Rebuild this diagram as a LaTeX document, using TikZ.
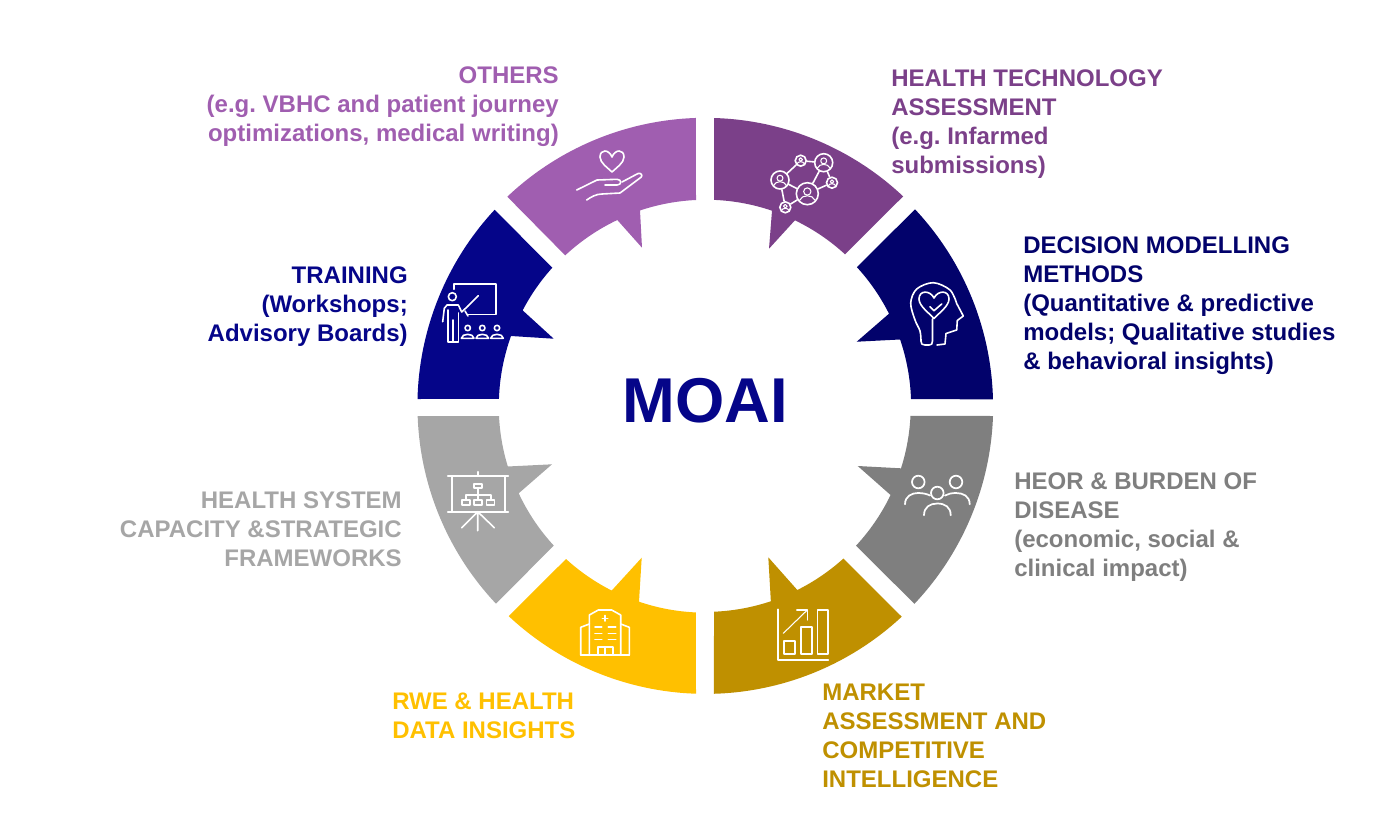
\documentclass[tikz,border=0pt]{standalone}
\usepackage{fontspec}
\setmainfont{Liberation Sans}
\usepackage{xcolor}
\usepackage{tikz}
\definecolor{htapurple}{HTML}{7B4089}
\definecolor{othpurple}{HTML}{A05EB0}
\definecolor{dmmnavy}{HTML}{02026B}
\definecolor{trainblue}{HTML}{050589}
\definecolor{heorgrey}{HTML}{7F7F7F}
\definecolor{hsgrey}{HTML}{A6A6A6}
\definecolor{rweyellow}{HTML}{FFC000}
\definecolor{mktgold}{HTML}{BF9000}
\tikzset{
  lbl/.style={inner sep=0pt, font=\fontsize{18}{21.75}\selectfont\bfseries\frenchspacing},
  lblL/.style={lbl, anchor=north west, align=left},
  lblR/.style={lbl, anchor=north east, align=right},
  iconline/.style={draw=white, line width=1.2pt, line cap=round, line join=round},
  netdot/.style={circle, draw=white, line width=1.2pt, inner sep=0pt}
}
\begin{document}
\begin{tikzpicture}[x=.75pt, y=.75pt, yscale=-1]
  \useasboundingbox (0,0) rectangle (1380,832);
  % ---------- the eight ring segments ----------
  \fill[htapurple] (714,118) arc[start angle=-88.31, end angle=-46.67, radius=288] -- (845,254.3)
    arc[start angle=-47.4, end angle=-64.3, radius=206] -- (769,248.7) -- (772,210.7)
    arc[start angle=-71.2, end angle=-87.64, radius=206] -- cycle;
  \fill[dmmnavy] (915,209.3) arc[start angle=-43.2, end angle=-1.4, radius=288] -- (911,399)
    arc[start angle=-1.95, end angle=-18.84, radius=206] -- (856.7,341.7) -- (889,313.7)
    arc[start angle=-26.7, end angle=-42.47, radius=206] -- cycle;
  \fill[heorgrey] (993,416) arc[start angle=2, end angle=43.4, radius=288] -- (856,545.7)
    arc[start angle=42.87, end angle=25.74, radius=206] -- (857.7,466) -- (901,468.3)
    arc[start angle=17.68, end angle=2.79, radius=206] -- cycle;
  \fill[mktgold] (901.7,616.7) arc[start angle=47.05, end angle=88.31, radius=288] -- (714,611.7)
    arc[start angle=87.63, end angle=71.5, radius=206] -- (768.3,557.3) -- (797.3,590)
    arc[start angle=63.48, end angle=47.9, radius=206] -- cycle;
  \fill[rweyellow] (696,693.7) arc[start angle=91.89, end angle=133.1, radius=288] -- (566,559)
    arc[start angle=132.36, end angle=116.87, radius=206] -- (641.7,557.7) -- (639,601.7)
    arc[start angle=108.77, end angle=92.64, radius=206] -- cycle;
  \fill[hsgrey] (496,603.7) arc[start angle=136.67, end angle=178, radius=288] -- (499,416)
    arc[start angle=177.23, end angle=162.94, radius=206] -- (552,464.3) -- (518.7,493.3)
    arc[start angle=154.95, end angle=137.38, radius=206] -- cycle;
  \fill[trainblue] (417.5,399) arc[start angle=181.4, end angle=222.96, radius=288] -- (552.3,267.7)
    arc[start angle=222.07, end angle=207.58, radius=206] -- (553.7,338.7) -- (511,336)
    arc[start angle=199.8, end angle=181.94, radius=206] -- cycle;
  \fill[othpurple] (507.3,196.7) arc[start angle=226.56, end angle=268.11, radius=288] -- (696,200)
    arc[start angle=267.36, end angle=251.46, radius=206] -- (642,247.7) -- (617.3,220)
    arc[start angle=244.63, end angle=227.05, radius=206] -- cycle;
  % ---------- centre and labels ----------
  \node[trainblue, inner sep=0pt, font=\fontsize{47.5}{50}\selectfont\bfseries] (moai) at (705.5,400.5) {MOAI};
  \node[lblR, othpurple] (others) at (559,66.5) {OTHERS\\(e.g. VBHC and patient journey\\optimizations, medical writing)};
  \node[lblL, htapurple] (hta) at (891,69.5) {HEALTH TECHNOLOGY\\ASSESSMENT\\(e.g. Infarmed\\submissions)};
  \node[lblL, dmmnavy] (dmm) at (1023,236.5) {DECISION MODELLING\\METHODS\\(Quantitative \& predictive\\models; Qualitative studies\\\& behavioral insights)};
  \node[lblR, trainblue] (training) at (408,266.5) {TRAINING\\(Workshops;\\Advisory Boards)};
  \node[lblL, heorgrey] (heor) at (1014,472.5) {HEOR \& BURDEN OF\\DISEASE\\(economic, social \&\\clinical impact)};
  \node[lblR, hsgrey] (hsystem) at (402,491.5) {HEALTH SYSTEM\\CAPACITY \&STRATEGIC\\FRAMEWORKS};
  \node[lblL, rweyellow] (rwe) at (392,692.5) {RWE \& HEALTH\\DATA INSIGHTS};
  \node[lblL, mktgold] (market) at (822,683.5) {MARKET\\ASSESSMENT AND\\COMPETITIVE\\INTELLIGENCE};
  % ---------- icon: people network ----------
  \foreach \n/\x/\y/\r in {na/780/180/9, nb/800.7/160.7/5.5, nc/823.7/162.7/9, nd/832/182.7/5.5, ne/807.3/193.7/11, nf/785.3/207.3/5.5} {
    \node[netdot, minimum size=2*\r*.75pt] (\n) at (\x,\y) {};
    \draw[iconline, line width=.8pt] (\x,\y-.2*\r) circle (.33*\r);
    \draw[iconline, line width=.8pt] (\x-.7*\r,\y+.6*\r) .. controls (\x-.5*\r,\y+.05*\r) and (\x+.5*\r,\y+.05*\r) .. (\x+.7*\r,\y+.6*\r);
  }
  \draw[iconline] (na) -- (nb) (nb) -- (nc) (na) -- (ne) (na) -- (nf) (nf) -- (ne) (ne) -- (nc) (ne) -- (nd) (nc) -- (nd);
  % ---------- icon: head with heart ----------
  \draw[iconline] plot[smooth, tension=.55] coordinates {(921,341) (920,331) (915,320) (910.7,303) (916.7,289) (933.3,282.7) (950,290) (956.7,303.5)} -- (963.3,316) -- (957.3,320.5) -- (956.7,330) -- (946,333.5) -- (945,344) -- (937,345);
  \draw[iconline] (921,341) .. controls (921,344) and (922,345) .. (925,345) -- (929,345) .. controls (931.5,345) and (932.5,344) .. (932.5,341) -- (932.5,319);
  \draw[iconline] (934,298) .. controls (930,290) and (919,290) .. (919,299) .. controls (919,306) and (929,313) .. (934,318.5) .. controls (939,313) and (949,306) .. (949,299) .. controls (949,290) and (938,290) .. (934,298) -- cycle;
  \draw[iconline] (930,306.7) -- (934,310.7) -- (941.7,304);
  % ---------- icon: people group ----------
  \foreach \x/\y in {918.3/482, 956/482, 937.3/493}
    \draw[iconline, line width=1.3pt] (\x,\y) circle (6.3);
  \draw[iconline, line width=1.3pt] (905,504.3) .. controls (905,496) and (912,493) .. (918,493) .. controls (923,493) and (927,494) .. (930,495.5);
  \draw[iconline, line width=1.3pt] (969.7,504.3) .. controls (969.7,496) and (963,493) .. (956,493) .. controls (951,493) and (948,494) .. (945,495.5);
  \draw[iconline, line width=1.3pt] (924,515.3) .. controls (924,507) and (930,503.5) .. (937.3,503.5) .. controls (945,503.5) and (950.7,507) .. (950.7,515.3);
  % ---------- icon: growth chart ----------
  \draw[iconline] (777.7,609.3) -- (777.7,660) -- (828.3,660);
  \draw[iconline] (784,640.7) rectangle (795,654);
  \draw[iconline] (800.7,626.7) rectangle (811.7,654);
  \draw[iconline] (817.3,610) rectangle (828,654);
  \draw[iconline, line width=.8pt] (783.3,633.3) -- (807.3,610);
  \draw[iconline, line width=.8pt] (796.7,610) -- (807.3,610) -- (807.3,620);
  % ---------- icon: hospital ----------
  \draw[iconline] (580.7,655) -- (580.7,627.3) -- (589.3,624);
  \draw[iconline] (629.3,655) -- (629.3,627.3) -- (620.7,624);
  \draw[iconline] (589.3,655) -- (589.3,615) -- (598.3,610) -- (611.7,610) -- (620.7,615) -- (620.7,655);
  \draw[iconline] (580.7,655) -- (629.3,655);
  \draw[iconline] (605,615.5) -- (605,621) (602.3,618.3) -- (607.7,618.3);
  \foreach \y in {626.7,633.3,639.3}
    \draw[iconline] (595,\y) -- (601.7,\y) (608.3,\y) -- (615.7,\y);
  \draw[iconline] (597.7,655) -- (597.7,646.7) -- (612.7,646.7) -- (612.7,655) (605,646.7) -- (605,655);
  % ---------- icon: presentation board ----------
  \draw[iconline] (447.7,476) -- (508.3,476) (447.7,511.7) -- (508.3,511.7);
  \draw[iconline] (451.7,476) -- (451.7,511.7) (505,476) -- (505,511.7);
  \draw[iconline] (477.7,471.7) -- (477.7,476);
  \draw[iconline] (477.7,511.7) -- (477.7,530.7) (477.7,511.7) -- (461.7,527.7) (477.7,511.7) -- (494.3,527.7);
  \draw[iconline] (474,484) rectangle (482,488) (478,488) -- (478,495) (465.7,500) -- (465.7,495) -- (490.7,495) -- (490.7,500) (478,495) -- (478,500);
  \foreach \x in {461.7,474,486.3}
    \draw[iconline] (\x,500) rectangle (\x+8.2,505);
  % ---------- icon: trainer and audience ----------
  \draw[iconline] (454,289.3) -- (454,284) -- (496,284) -- (496,314.3) -- (468.3,314.3);
  \draw[iconline] (452.3,296.7) circle (4);
  \draw[iconline] (442.7,321.7) -- (444.3,308.3) -- (447,305) -- (458.3,305) -- (461.7,312) -- (468,306);
  \draw[iconline] (447.7,310) -- (447.7,341.7) -- (458.3,341.7) -- (458.3,313) (453,320) -- (453,341.7);
  \draw[iconline] (468,306) -- (478.3,295.7) (465,311) -- (468,316);
  \foreach \x in {467.7,482.3,497} {
    \draw[iconline] (\x,328) circle (2.7);
    \draw[iconline] (\x-6.3,338.3) .. controls (\x-6,333) and (\x+6,333) .. (\x+6.3,338.3) -- cycle;
  }
  % ---------- icon: heart in hand ----------
  \draw[iconline] (612,157) .. controls (609,149) and (600,149) .. (600,157) .. controls (600,163) and (608,168) .. (612,172) .. controls (616,168) and (624,163) .. (624,157) .. controls (624,149) and (615,149) .. (612,157) -- cycle;
  \draw[iconline] (576.7,190) -- (597,180) -- (617,179.3) .. controls (622,179.3) and (622,185) .. (617,185) -- (605,185);
  \draw[iconline] (622,182) -- (638,173.5) .. controls (641,172.5) and (643,175.5) .. (641,177.3) -- (620,193) -- (602,194) .. controls (596,194) and (591,197) .. (586.7,200);
\end{tikzpicture}
\end{document}
